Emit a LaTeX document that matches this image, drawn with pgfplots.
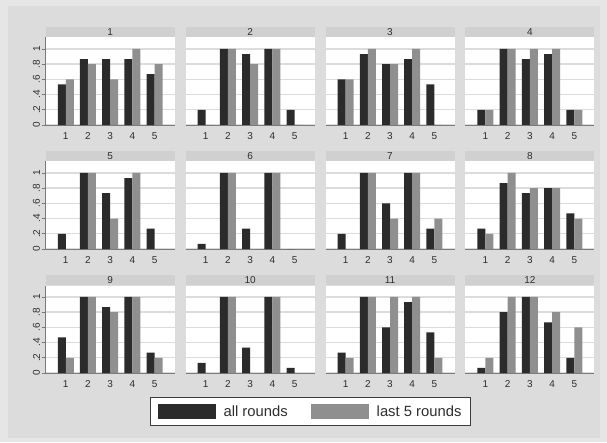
\documentclass[border=0pt]{standalone}
\usepackage{pgfplots}
\pgfplotsset{compat=1.18}
\usepackage{pgfplotstable}
\usepackage{fontspec}
\setmainfont{Liberation Sans}

\definecolor{outerbg}{HTML}{E6E6E6}
\definecolor{graphbg}{HTML}{DCDCDC}
\definecolor{stripgray}{HTML}{D0D0D0}
\definecolor{gridgray}{HTML}{DCDCDC}
\definecolor{axisgray}{HTML}{7A7A7A}
\definecolor{darkbar}{HTML}{2B2B2B}
\definecolor{lightbar}{HTML}{8F8F8F}
\definecolor{textgray}{HTML}{2E2E2E}
\definecolor{legendborder}{HTML}{3C3C3C}

\newcommand{\ticfont}{\fontsize{10}{11}\selectfont}
\newcommand{\legfont}{\fontsize{14.8}{17}\selectfont}

% share of choices per option: a = all rounds, b = last 5 rounds
\pgfplotstableread{
cat a1    b1  a2    b2  a3    b3  a4    b4  a5    b5  a6    b6  a7    b7  a8    b8  a9    b9  a10   b10 a11   b11 a12   b12
1   0.533 0.6 0.2   0   0.6   0.6 0.2   0.2 0.2   0   0.067 0   0.2   0   0.267 0.2 0.467 0.2 0.133 0   0.267 0.2 0.067 0.2
2   0.867 0.8 1     1   0.933 1   1     1   1     1   1     1   1     1   0.867 1   1     1   1     1   1     1   0.8   1
3   0.867 0.6 0.933 0.8 0.8   0.8 0.867 1   0.733 0.4 0.267 0   0.6   0.4 0.733 0.8 0.867 0.8 0.333 0   0.6   1   1     1
4   0.867 1   1     1   0.867 1   0.933 1   0.933 1   1     1   1     1   0.8   0.8 1     1   1     1   0.933 1   0.667 0.8
5   0.667 0.8 0.2   0   0.533 0   0.2   0.2 0.267 0   0     0   0.267 0.4 0.467 0.4 0.267 0.2 0.067 0   0.533 0.2 0.2   0.6
}\data

\pgfplotsset{
  every axis title/.style={at={(0.5,1)}, anchor=south, fill=stripgray,
    minimum width=129pt, minimum height=10.7pt, inner sep=0pt,
    font=\ticfont, text=textgray},
  swatch/.style={legend image code/.code={%
    \fill[##1] (0pt,-7.5pt) rectangle (58pt,7.5pt); \path (64pt,0pt);}},
  panel/.style={
    scale only axis, width=129pt, height=87.5pt, anchor=south west,
    axis background/.style={fill=white},
    ybar=0pt, bar width=8pt,
    xmin=0.097, xmax=5.903, ymin=0, ymax=1.15,
    xtick={1,2,3,4,5}, xticklabels={1,2,3,4,5},
    ytick={0,0.2,0.4,0.6,0.8,1}, yticklabels={0,.2,.4,.6,.8,1},
    /pgf/number format/assume math mode=true,
    axis x line*=bottom, axis y line*=left,
    axis line style={-, draw=axisgray, line width=0.6pt},
    tick align=outside, major tick length=3.5pt,
    major x tick style={draw=none},
    major y tick style={draw=axisgray, line width=0.6pt},
    ymajorgrids, major grid style={draw=gridgray, line width=1.3pt},
    tick label style={font=\ticfont, text=textgray},
    xticklabel style={anchor=base, yshift=-11pt},
    yticklabel style={rotate=90, anchor=south, inner ysep=2pt},
    clip=false,
  },
  inner/.style={y axis line style={draw=none}, yticklabels={},
    major y tick style={draw=none}},
}

% one small panel: x, y of its lower left corner, number, extra options
\newcommand{\panel}[4]{%
  \begin{axis}[panel, at={(#1pt,#2pt)}, title={#3}, #4]
    \addplot[fill=darkbar, draw=none, swatch] table[x=cat, y=a#3] {\data};
    \addplot[fill=lightbar, draw=none, swatch] table[x=cat, y=b#3] {\data};
  \end{axis}}

\begin{document}
\begin{tikzpicture}
  \fill[outerbg] (0pt,0pt) rectangle (607pt,442pt);
  \fill[graphbg] (8pt,4pt) rectangle (600pt,436pt);

  \panel{45.7}{317}{1}{legend entries={all rounds, last 5 rounds},
    legend columns=2,
    legend style={at={(2.0527,-3.2743)}, anchor=center,
      draw=legendborder, line width=0.8pt, fill=white,
      inner xsep=7pt, inner ysep=6pt, font=\legfont, text=textgray,
      nodes={inner sep=2pt},
      /tikz/every even column/.append style={column sep=21pt}}}
  \panel{185.6}{317}{2}{inner}
  \panel{325.5}{317}{3}{inner}
  \panel{465.4}{317}{4}{inner}

  \panel{45.7}{193}{5}{}
  \panel{185.6}{193}{6}{inner}
  \panel{325.5}{193}{7}{inner}
  \panel{465.4}{193}{8}{inner}

  \panel{45.7}{69}{9}{}
  \panel{185.6}{69}{10}{inner}
  \panel{325.5}{69}{11}{inner}
  \panel{465.4}{69}{12}{inner}
\end{tikzpicture}
\end{document}
